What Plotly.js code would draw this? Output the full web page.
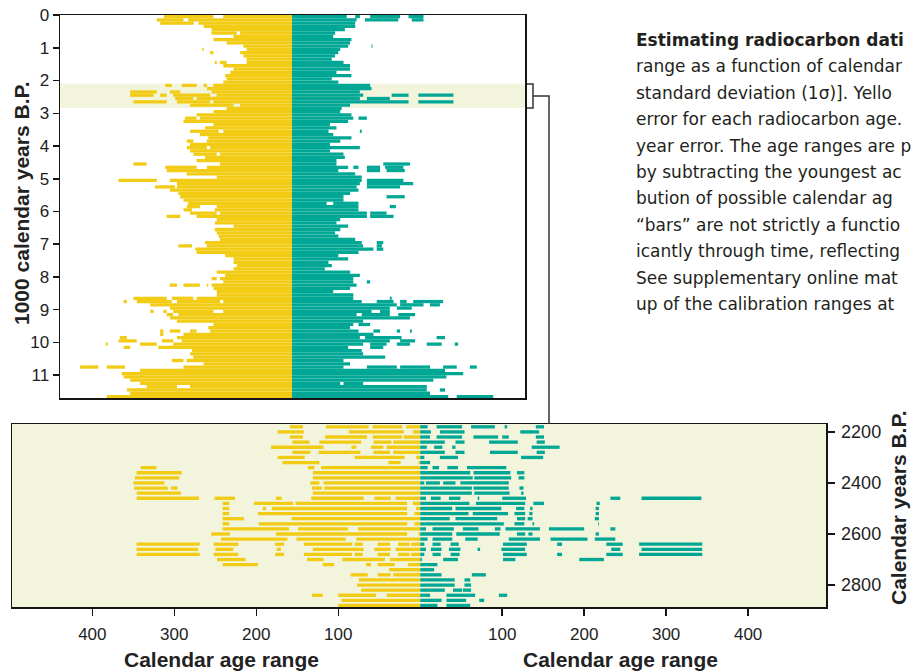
<!DOCTYPE html>
<html><head><meta charset="utf-8">
<script src="https://cdn.plot.ly/plotly-3.0.1.min.js"></script>
<style>html,body{margin:0;padding:0;background:#fff;overflow:hidden}#chart{width:911px;height:672px}</style>
</head><body><div id="chart"></div>
<script>
// ---------- DATA ----------
// Top panel: each row = [start year B.P. (100-yr row), inner, outer, inner, outer, ...] (calendar age range, years)
const topYellowRows = [
[0,0,147,168,274],[100,0,222,232,289],[200,0,200,210,282],[300,0,189],[400,0,172],[500,0,111,118,172],
[600,0,125],[700,0,168],[800,0,140],[900,0,104],[1000,0,97,189,192],[1100,0,111,168,175],[1200,0,104],
[1300,0,97],[1400,0,97,140,154,161,165],[1500,0,147],[1600,0,125],[1700,0,132],[1800,0,143],[1900,0,140],
[2000,0,147],[2100,0,168,182,189,204,236,257,271],[2200,0,182],[2300,0,172,239,261,289,346],
[2400,0,161,175,254,268,282,296,346],[2500,0,204,211,250],[2600,0,168,175,246,268,339],[2700,0,111,125,218],
[2800,0,140],[2900,0,168],[3000,0,204],[3100,0,197,204,229],[3200,0,232],[3300,0,168],[3400,0,186],
[3500,0,147,157,218],[3600,0,197],[3700,0,179],[3800,0,182,211,225],[3900,0,218],[4000,0,175,182,225],
[4100,0,218],[4200,0,154,161,211],[4300,0,186],[4400,0,204],[4500,0,154,311,339],[4600,0,182,204,271],
[4700,0,268],[4800,0,225],[4900,0,161],[5000,0,261,289,371],[5100,0,246],[5200,0,246,250,293],[5300,0,261],
[5400,0,243],[5500,0,239],[5600,0,232],[5700,0,222],[5800,0,161,197,225],[5900,0,165,214,232],
[6000,0,154,161,218],[6100,0,204,239,268],[6200,0,161],[6300,0,165],[6400,0,125],[6500,0,165],[6600,0,161],
[6700,0,157],[6800,0,154],[6900,0,186],[7000,0,182,214,243],[7100,0,207],[7200,0,204],[7300,0,143],
[7400,0,125],[7500,0,125],[7600,0,118],[7700,0,125],[7800,0,161],[7900,0,143],[8000,0,154,161,172],
[8100,0,147],[8200,0,172,179,182,197,232,246,261],[8300,0,168],[8400,0,161],[8500,0,161],
[8600,0,204,211,257,268,339],[8700,0,147,154,246,257,332,353,360],[8800,0,303],[8900,0,261],
[9000,0,147,168,254,268,275,296,303],[9100,0,243,254,268],[9200,0,261],[9300,0,246],[9400,0,168],
[9500,0,179],[9600,0,175,204,218,239,261,275,282],[9700,0,232,275,282],[9800,0,246,353,368],
[9900,0,236,254,278,332,371],[10000,0,254,289,325,394,398],[10100,0,286,346,360],[10200,0,214],
[10300,0,218],[10400,0,211],[10500,0,225,232,257],[10600,0,189],[10700,0,232,357,396,414,453],
[10800,0,325],[10900,0,364],[11000,0,360],[11100,0,346],[11200,0,325],[11300,0,218,246,311],
[11400,0,353],[11500,0,346],[11600,0,396]
];
const topGreenRows = [
[0,0,117,135,145,167,231,249,281],[100,0,138,156,227,256,281],[200,0,135],[300,0,135],[400,0,113],
[500,0,92],[600,0,88],[700,0,127],[800,0,124],[900,0,120,170,172],[1000,0,103],[1100,0,99],[1200,0,92],
[1300,0,85],[1400,0,110],[1500,0,124],[1600,0,124],[1700,0,95],[1800,0,127],[1900,0,85],[2000,0,99],
[2100,0,167],[2200,0,170],[2300,0,145],[2400,0,152,213,249,270,345],[2500,0,145,160,209],
[2600,0,249,270,345],[2700,0,124],[2800,0,106],[2900,0,103],[3000,0,127],[3100,0,131,142,160],
[3200,0,120],[3300,0,81],[3400,0,95],[3500,0,78,145,149],[3600,0,88],[3700,0,127],[3800,0,103],
[3900,0,81],[4000,0,145],[4100,0,81],[4200,0,110],[4300,0,113],[4400,0,95],[4500,0,95,195,252],
[4600,0,120,131,142,160,188,199,238],[4700,0,99,160,188,202,241],[4800,0,135],[4900,0,149],
[5000,0,149,160,238],[5100,0,145,160,259],[5200,0,138,160,231],[5300,0,142],[5400,0,124],
[5500,0,110,202,241],[5600,0,110],[5700,0,74,88,142],[5800,0,142,209,222],[5900,0,142],
[6000,0,160,167,202],[6100,0,160,167,217],[6200,0,103],[6300,0,95],[6400,0,120],[6500,0,103],
[6600,0,92],[6700,0,99],[6800,0,135],[6900,0,149,181,195],[7000,0,152,181,192],[7100,0,174,181,195],
[7200,0,142],[7300,0,99],[7400,0,120],[7500,0,78],[7600,0,85],[7700,0,70],[7800,0,124],[7900,0,145],
[8000,0,131],[8100,0,131,160,167],[8200,0,138],[8300,0,124],[8400,0,88],[8500,0,131],[8600,0,131,209,213],
[8700,0,149,181,217,231,245,259,323],[8800,0,224,231,281,295,316],[8900,0,209,224,256],
[9000,0,170,188,209],[9100,0,138,149,209,227,263],[9200,0,252],[9300,0,152],[9400,0,131,142,167],
[9500,0,124],[9600,0,142,174,188,224,231,252,256],[9700,0,174],[9800,0,145,156,234,309,327],
[9900,0,209,231,263],[10000,0,152,167,202,224,252,288,320,348,355],[10100,0,120,167,195],[10200,0,149],
[10300,0,152],[10400,0,199],[10500,0,110],[10600,0,124],[10700,0,110,160,224,231,295,323,352,380,395],
[10800,0,327],[10900,0,366],[11000,0,330],[11100,0,302],[11200,0,103,110,152],[11300,0,288],
[11400,0,288,316,327],[11500,0,295],[11600,0,334,352,430]
];
// Bottom panel (2180-2880 B.P., 20-yr rows)
const bottomYellowRows = [
[2180,0,17,22,58,63,115,143,159],[2200,0,9,20,87,142,174],[2220,0,20,22,58,65,116,143,159],
[2240,0,33,35,57,72,123,135,156],[2260,0,41,45,60,78,84,118,182],[2280,0,33,37,57,73,124,134,156],
[2300,0,5,19,80,141,174],[2320,0,2,24,39,123,168],[2340,0,121,129,137,322,341],[2360,0,131,291,346],
[2380,0,131,294,348],[2400,0,118,123,134,312,350],[2420,0,117,120,132,296,304,308,349],[2440,0,131,292,346],
[2460,0,30,36,56,69,133,169,176,226,251,270,346],[2480,0,9,16,152,155,203,233,241],
[2500,0,5,16,181,188,192,233,241],[2520,0,7,16,198,233,241],[2540,0,157,215,241],[2560,0,7,16,197,233,241],
[2580,0,76,88,149,160,241],[2600,0,2,16,176,232,255],[2620,0,78,91,151,162,243],
[2640,0,11,13,27,37,52,70,80,83,142,166,177,222,252,269,346],
[2660,0,30,36,56,69,131,170,175,228,250,271,346],
[2680,0,11,13,27,37,52,70,80,83,142,166,177,222,252,269,346],
[2700,0,37,43,95,118,138,213,248],[2720,0,15,31,52,60,66,105,119,198,241],[2740,0,38],
[2760,0,33,36,52,64,85],[2780,0,75],[2800,0,77],[2820,0,72],[2840,0,41,54,100,119,132],[2860,0,96],[2880,0,100]
];
const bottomGreenRows = [
[2180,0,9,20,51,62,91,103,106,141,151],[2200,0,13,24,54,122,145],[2220,0,12,20,51,65,95,100,108,141,151],
[2240,0,30,43,54,84,119,142,152],[2260,0,8,17,27,39,43,136,170],[2280,0,30,43,54,85,119,142,152],
[2300,0,5,24,46,123,150],[2320,0,12],[2340,0,9,15,23,33,46,57,105],[2360,0,61,65,110,118,127],
[2380,0,64,66,111,120,127],[2400,0,5,7,24,28,43,49,108],[2420,0,63,65,108,121,126],[2440,0,63,66,109,123,126],
[2460,0,7,13,25,35,49,70,72,100,129,232,244,270,343],[2480,0,60,68,128,138,151,215,219],
[2500,0,39,43,99,117,127,134,137,214,218],[2520,0,59,64,107,115,128,133,137,214,218],
[2540,0,36,43,94,118,128,131,137,213,218],[2560,0,102,115,127,137,139,217,218],
[2580,0,7,15,41,52,71,91,98,104,146,157,200,232,238],[2600,0,39,44,97,118,128,132,137,214,218],
[2620,0,9,15,39,55,70,108,146,159,204,213,238],[2640,0,5,15,25,37,47,101,130,167,173,227,247,267,344],
[2660,0,7,13,26,35,49,70,73,99,128,233,244,270,344],[2680,0,5,15,25,37,48,101,130,167,173,227,247,267,344],
[2700,0,2,28,46,101,116,194,224],[2720,0,21],[2740,0,17],[2760,0,26,63,80],[2780,0,42,54,61],
[2800,0,42,54,62],[2820,0,30,40,51,52,62],[2840,0,12,32,67,96,106],[2860,0,26,32,56,72,78],[2880,0,21,32,61]
];
const topYTickVals = [0,1000,2000,3000,4000,5000,6000,7000,8000,9000,10000,11000];
const topYTickText = ['0','1','2','3','4','5','6','7','8','9','10','11'];
const bottomXTickVals = [-400,-300,-200,-100,100,200,300,400];
const bottomXTickText = ['400','300','200','100','100','200','300','400'];
const bottomYTickVals = [2200,2400,2600,2800];
const highlightBand = [2100, 2840];
const captionLines = [
  '<b>Estimating radiocarbon dati</b>',
  'range as a function of calendar',
  'standard deviation (1σ)]. Yello',
  'error for each radiocarbon age.',
  'year error. The age ranges are p',
  'by subtracting the youngest ac',
  'bution of possible calendar ag',
  '“bars” are not strictly a functio',
  'icantly through time, reflecting',
  'See supplementary online mat',
  'up of the calibration ranges at'
];

// ---------- BUILD ----------
const YEL = '#F2CB14', GRN = '#00A794', BAND = '#F2F4DC';
function segTrace(rows, sign, offset, width, color, xa, ya) {
  const y = [], x = [], base = [];
  rows.forEach(r => {
    for (let i = 1; i < r.length; i += 2) {
      const a = r[i], b = r[i + 1];
      y.push(r[0] + offset); x.push(b - a); base.push(sign < 0 ? -b : a);
    }
  });
  return {type: 'bar', orientation: 'h', y, x, base, width, xaxis: xa, yaxis: ya,
    marker: {color, line: {width: 0}}, hoverinfo: 'skip', showlegend: false};
}
const data = [
  segTrace(topYellowRows, -1, 50, 100, YEL, 'x', 'y'),
  segTrace(topGreenRows, 1, 50, 100, GRN, 'x', 'y'),
  segTrace(bottomYellowRows, -1, 0, 13, YEL, 'x2', 'y2'),
  segTrace(bottomGreenRows, 1, 0, 13, GRN, 'x2', 'y2')
];
const W = 911, H = 672;
const px = v => v / W, py = v => 1 - v / H;
const axBase = {showgrid: false, zeroline: false, showline: true, mirror: true, linecolor: '#151515',
  linewidth: 1.5, fixedrange: true};
const titleFont = {family: 'Liberation Sans, Arial, sans-serif', size: 21, color: '#222'};
const annotations = [
  {xref: 'paper', yref: 'paper', x: px(22), y: py(203), text: '<b>1000 calendar years B.P.</b>', textangle: -90,
   showarrow: false, font: titleFont, xanchor: 'center', yanchor: 'middle'},
  {xref: 'paper', yref: 'paper', x: px(221), y: py(659), text: '<b>Calendar age range</b>',
   showarrow: false, font: titleFont, xanchor: 'center', yanchor: 'middle'},
  {xref: 'paper', yref: 'paper', x: px(620), y: py(659), text: '<b>Calendar age range</b>',
   showarrow: false, font: titleFont, xanchor: 'center', yanchor: 'middle'},
  {xref: 'paper', yref: 'paper', x: px(898), y: py(508), text: '<b>Calendar years B.P.</b>', textangle: -90,
   showarrow: false, font: titleFont, xanchor: 'center', yanchor: 'middle'}
];
captionLines.forEach((t, i) => annotations.push({xref: 'paper', yref: 'paper', x: px(634), y: py(40 + i * 26.4),
  text: t, showarrow: false, xanchor: 'left', yanchor: 'middle', align: 'left',
  font: {family: 'DejaVu Sans, sans-serif', size: 17, color: '#231F20'}}));

const lineStyle = {color: '#333', width: 1.5};
const shapes = [
  {type: 'rect', xref: 'x domain', yref: 'y', x0: 0, x1: 1, y0: highlightBand[0], y1: highlightBand[1],
   fillcolor: BAND, line: {width: 0}, layer: 'below'},
  {type: 'rect', xref: 'x2 domain', yref: 'y2 domain', x0: 0, x1: 1, y0: 0, y1: 1,
   fillcolor: BAND, line: {width: 0}, layer: 'below'},
  {type: 'path', xref: 'paper', yref: 'paper',
   path: `M${px(527)},${py(84)} L${px(533)},${py(84)} L${px(533)},${py(108)} L${px(527)},${py(108)}`,
   line: lineStyle},
  {type: 'path', xref: 'paper', yref: 'paper',
   path: `M${px(533)},${py(96)} L${px(549)},${py(96)} L${px(549)},${py(424)}`, line: lineStyle}
];
const tickFont = {family: 'Liberation Sans, Arial, sans-serif', size: 17, color: '#222'};
const layout = {
  width: W, height: H, margin: {l: 0, r: 0, t: 0, b: 0}, paper_bgcolor: '#fff', plot_bgcolor: '#fff',
  barmode: 'overlay', showlegend: false,
  xaxis: Object.assign({}, axBase, {domain: [px(60), px(525)], range: [-496, 498], showticklabels: false, ticks: ''}),
  yaxis: Object.assign({}, axBase, {domain: [py(398), py(15)], range: [11695, 0], tickvals: topYTickVals,
    ticktext: topYTickText, ticks: 'outside', ticklen: 6, tickwidth: 1.5, tickcolor: '#151515', tickfont: tickFont}),
  xaxis2: Object.assign({}, axBase, {domain: [px(12), px(826)], range: [-498, 495], anchor: 'y2',
    tickvals: bottomXTickVals, ticktext: bottomXTickText, ticks: 'outside', ticklen: 7, tickwidth: 1.5,
    tickcolor: '#151515', tickfont: tickFont, ticklabelstandoff: 4}),
  yaxis2: Object.assign({}, axBase, {domain: [py(607), py(424)], range: [2886, 2169], anchor: 'x2', side: 'right',
    tickvals: bottomYTickVals, ticks: 'outside', ticklen: 7, tickwidth: 1.5, tickcolor: '#151515',
    tickfont: {family: 'Liberation Sans, Arial, sans-serif', size: 18, color: '#222'}, ticklabelstandoff: 3}),
  shapes, annotations
};
Plotly.newPlot('chart', data, layout, {staticPlot: true, displayModeBar: false});
</script></body></html>
